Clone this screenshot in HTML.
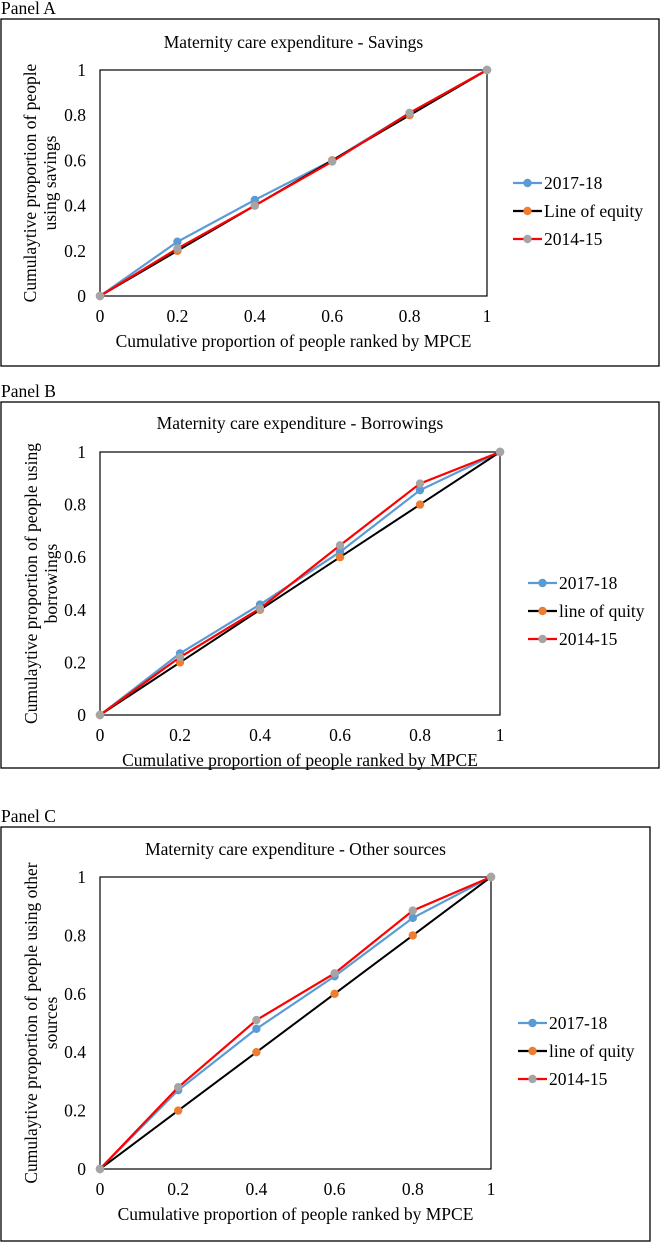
<!DOCTYPE html>
<html><head><meta charset="utf-8">
<style>
body{margin:0;background:#fff;font-family:"Liberation Serif",serif;}
svg text{font-family:"Liberation Serif",serif;fill:#000;}
</style></head>
<body>
<svg id="root" width="660" height="1242" xmlns="http://www.w3.org/2000/svg"></svg>
<script>
const xCats=[0,0.2,0.4,0.6,0.8,1];
const yTicks=[0,0.2,0.4,0.6,0.8,1];
const tickLabels=["0","0.2","0.4","0.6","0.8","1"];
const equity=[0,0.2,0.4,0.6,0.8,1];
const aS2017=[0,0.24,0.425,0.6,0.81,1];
const aS2014=[0,0.21,0.4,0.595,0.81,1];
const bS2017=[0,0.234,0.42,0.62,0.855,1];
const bS2014=[0,0.22,0.405,0.645,0.88,1];
const cS2017=[0,0.27,0.48,0.66,0.86,1];
const cS2014=[0,0.28,0.51,0.67,0.885,1];

const NS="http://www.w3.org/2000/svg";
const root=document.getElementById('root');
const FS=17.5;
function mk(tag,attrs,parent){const e=document.createElementNS(NS,tag);for(const k in attrs)e.setAttribute(k,attrs[k]);(parent||root).appendChild(e);return e;}
function txt(s,attrs,parent){const e=mk('text',attrs,parent);e.textContent=s;return e;}

const panels=[
 {id:'a',label:'Panel A',labelY:14,box:[1,19,658,347],title:'Maternity care expenditure - Savings',titleY:48,
  plot:[100,70,487,296],ytitle:['Cumulaytive proportion of people','using savings'],yx:[30,50],
  legY:183,legX:513,eqName:'Line of equity',s17:aS2017,s14:aS2014},
 {id:'b',label:'Panel B',labelY:397,box:[1,402,658,366],title:'Maternity care expenditure - Borrowings',titleY:429,
  plot:[100,452,500,715],ytitle:['Cumulaytive proportion of people using','borrowings'],yx:[31,51],
  legY:583,legX:528,eqName:'line of quity',s17:bS2017,s14:bS2014},
 {id:'c',label:'Panel C',labelY:822,box:[1,827,649,414],title:'Maternity care expenditure - Other sources',titleY:855,
  plot:[100,877,491,1169],ytitle:['Cumulaytive proportion of people using other','sources'],yx:[31,51],
  legY:1023,legX:518,eqName:'line of quity',s17:cS2017,s14:cS2014}
];

panels.forEach(p=>{
  const g=mk('g',{});
  
  
  const lb=txt(p.label,{x:1,y:p.labelY,'font-size':FS},g);
  
  
  const bx=mk('rect',{x:p.box[0],y:p.box[1],width:p.box[2],height:p.box[3],fill:'none',stroke:'#000','stroke-width':1.3},g);
  
  
  const [L,T,R,B]=p.plot;
  const sx=v=>L+v*(R-L), sy=v=>B-v*(B-T);
  const t=txt(p.title,{x:(L+R)/2,y:p.titleY,'font-size':FS,'text-anchor':'middle'},g);
  
  
  const pa=mk('rect',{x:L,y:T,width:R-L,height:B-T,fill:'none',stroke:'#000','stroke-width':1.2},g);
  
  
  yTicks.forEach((v,i)=>{
    const e=txt(tickLabels[i],{x:L-14,y:sy(v)+6,'font-size':FS,'text-anchor':'end'},g);
    
    
  });
  xCats.forEach((v,i)=>{
    const e=txt(tickLabels[i],{x:sx(v),y:B+26,'font-size':FS,'text-anchor':'middle'},g);
    
    
  });
  const xt=txt('Cumulative proportion of people ranked by MPCE',{x:(L+R)/2,y:B+51,'font-size':FS,'text-anchor':'middle'},g);
  
  
  const cy=(T+B)/2;
  p.ytitle.forEach((s,i)=>{
    const e=txt(s,{x:0,y:0,'font-size':FS,'text-anchor':'middle',transform:`translate(${p.yx[i]+6},${cy}) rotate(-90)`},g);
    
    
  });
  const series=[
    {name:'2017-18',vals:p.s17,line:'#5b9bd5',mark:'#5b9bd5',w:2.2},
    {name:p.eqName,vals:equity,line:'#000',mark:'#ed7d31',w:2},
    {name:'2014-15',vals:p.s14,line:'#ff0000',mark:'#a5a5a5',w:2.2}
  ];
  series.forEach(s=>{
    const sg=mk('g',{},g);
    
    
    const pts=xCats.map((x,i)=>sx(x)+','+sy(s.vals[i])).join(' ');
    const pl=mk('polyline',{points:pts,fill:'none',stroke:s.line,'stroke-width':s.w},sg);
    
    
    xCats.forEach((x,i)=>{
      const c=mk('circle',{cx:sx(x),cy:sy(s.vals[i]),r:4.2,fill:s.mark},sg);
      
      
    });
  });
  series.forEach((s,i)=>{
    const y=p.legY+i*28;
    const lg=mk('g',{},g);
    
    
    mk('line',{x1:p.legX,y1:y,x2:p.legX+29,y2:y,stroke:s.line,'stroke-width':2.2},lg);
    mk('circle',{cx:p.legX+14.5,cy:y,r:4.2,fill:s.mark},lg);
    txt(s.name,{x:p.legX+31,y:y+6,'font-size':FS},lg);
  });
});
</script>
</body></html>
